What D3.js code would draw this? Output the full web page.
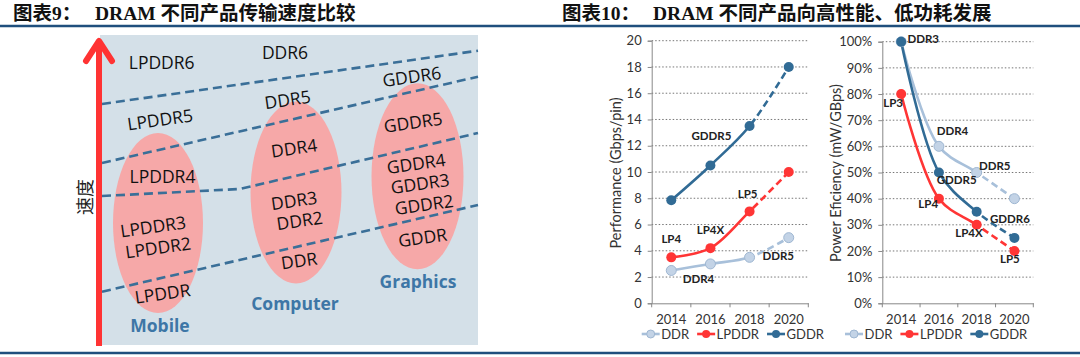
<!DOCTYPE html>
<html><head><meta charset="utf-8">
<script src="https://cdn.jsdelivr.net/npm/d3@7"></script>
<style>body{margin:0;background:#fff} svg{display:block}</style>
</head><body><svg id="c" width="1080" height="357"></svg>
<script>
// ---------- data ----------
const title9 = ["图表9：", "DRAM 不同产品传输速度比较"];
const title10 = ["图表10：", "DRAM 不同产品向高性能、低功耗发展"];

// left diagram (panel units: x across panel, y = speed level)
const segments = ["Mobile", "Computer", "Graphics"];
const segmentPos = [[58, 20], [193, 42], [316, 64]];
const ellipseCenters = [[56, 122], [194, 152.5], [315.5, 168.7]];
const ellipseRadii = [[45, 90], [45.5, 91], [46, 93]];
const boundaryA = [[0, 241], [376, 294.3]];
const boundaryB = [[0, 182], [376, 268.3]];
const boundaryC = [[0, 149], [138, 156], [376, 212]];
const boundaryD = [[0, 53.3], [376, 140]];
const productNames = ["LPDDR6","DDR6","LPDDR5","DDR5","GDDR6","GDDR5","LPDDR4","DDR4","GDDR4","GDDR3","GDDR2","GDDR","DDR3","DDR2","DDR","LPDDR3","LPDDR2","LPDDR"];
const productPos = [[59.7,283.3],[183,293.3],[58,226],[185.5,246],[309.7,269],[311,223.3],[60.5,169.2],[192,197.5],[314,182],[318,162],[322,141],[320.5,108],[192,145],[197.5,125],[197,85],[51,119],[56,98],[60.5,52]];
const productTilt = [0,0,1,1,1,1,0,1,1,1,1,1,1,1,1,1,1,1];
const speedLabel = "速度";

// right charts
const years = ["2014", "2016", "2018", "2020"];
const seriesNames = ["DDR", "LPDDR", "GDDR"];
const perfDDR = [2.5, 3, 3.5, 5];
const perfLPDDR = [3.5, 4.2, 7, 10];
const perfGDDR = [7.85, 10.5, 13.5, 18];
const perfTicks = [0, 2, 4, 6, 8, 10, 12, 14, 16, 18, 20];
const perfLabels = ["GDDR5", "LP5", "LP4X", "LP4", "DDR5", "DDR4"];
const perfLabelAt = [[2, 1], [1, 2], [1, 1], [1, 0], [0, 3], [0, 1]]; // [series, yearIndex]
const effDDR = [100, 60, 50, 40];
const effLPDDR = [80, 40, 30, 20];
const effGDDR = [100, 50, 35, 25];
const effTicks = [0, 10, 20, 30, 40, 50, 60, 70, 80, 90, 100];
const effLabels = ["DDR3", "LP3", "DDR4", "DDR5", "GDDR5", "LP4", "GDDR6", "LP4X", "LP5"];
const effLabelAt = [[2, 0], [1, 0], [0, 1], [0, 2], [2, 1], [1, 1], [2, 3], [1, 2], [1, 3]];

// ---------- styles ----------
const navy = "#1f4f7d";
const colors = { DDR: "#a8c0da", LPDDR: "#ff3535", GDDR: "#316b95" };
const markerFill = { DDR: "#c3d3e6", LPDDR: "#ff3535", GDDR: "#316b95" };
const svg = d3.select("#c");
const cjk = "'Liberation Serif','Noto Sans CJK SC',serif";
const chartFont = "Lato, 'Open Sans', sans-serif";

// ---------- titles & rules ----------
function title(x1, x2, t) {
  svg.append("text").attr("x", x1).attr("y", 20).attr("font-family", cjk).attr("font-weight", "bold")
    .attr("font-size", 19.5).attr("fill", "#111").text(t[0]);
  svg.append("text").attr("x", x2).attr("y", 20).attr("font-family", cjk).attr("font-weight", "bold")
    .attr("font-size", 19.5).attr("fill", "#111").text(t[1]);
}
title(13, 95, title9);
title(562, 653, title10);
svg.append("line").attr("x1", 0).attr("x2", 1080).attr("y1", 26).attr("y2", 26).attr("stroke", navy).attr("stroke-width", 2.5);
svg.append("line").attr("x1", 0).attr("x2", 1080).attr("y1", 353).attr("y2", 353).attr("stroke", navy).attr("stroke-width", 2.5);

// ---------- left diagram ----------
const px = d3.scaleLinear().domain([0, 376]).range([102, 478]);
const py = d3.scaleLinear().domain([0, 310]).range([345, 35]);
const L = svg.append("g");
L.append("rect").attr("x", 100).attr("y", py(310)).attr("width", px(376) - 100).attr("height", py(0) - py(310)).attr("fill", "#d4e0e8");
L.selectAll("ellipse").data(ellipseCenters).join("ellipse")
  .attr("cx", d => px(d[0])).attr("cy", d => py(d[1]))
  .attr("rx", (d, i) => ellipseRadii[i][0]).attr("ry", (d, i) => ellipseRadii[i][1])
  .attr("fill", "#f6a8a8");
const line = d3.line().x(d => px(d[0])).y(d => py(d[1]));
[boundaryA, boundaryB, boundaryC, boundaryD].forEach(b => {
  L.append("path").attr("d", line(b)).attr("fill", "none").attr("stroke", "#3a6f98")
    .attr("stroke-width", 2.6).attr("stroke-dasharray", "9,5");
});
L.selectAll("text.prod").data(productNames).join("text").attr("class", "prod")
  .attr("transform", (d, i) => `translate(${px(productPos[i][0])},${py(productPos[i][1])}) rotate(${productTilt[i] ? -8 : 0})`)
  .attr("text-anchor", "middle").attr("dominant-baseline", "central")
  .attr("font-family", "'Open Sans', sans-serif").attr("font-size", 17.5).attr("fill", "#111").text(d => d);
L.selectAll("text.seg").data(segments).join("text").attr("class", "seg")
  .attr("x", (d, i) => px(segmentPos[i][0])).attr("y", (d, i) => py(segmentPos[i][1]))
  .attr("text-anchor", "middle").attr("dominant-baseline", "central")
  .attr("font-family", "'Open Sans', sans-serif").attr("font-weight", "bold").attr("font-size", 17.5)
  .attr("fill", "#3d76a6").text(d => d);
// arrow
L.append("line").attr("x1", 99).attr("x2", 99).attr("y1", 44).attr("y2", 346).attr("stroke", "#ff3333").attr("stroke-width", 6);
L.append("polyline").attr("points", "86,61 99,41 112,61").attr("fill", "none").attr("stroke", "#ff3333")
  .attr("stroke-width", 6).attr("stroke-linecap", "round").attr("stroke-linejoin", "round");
L.append("text").attr("transform", "translate(84,197) rotate(-90)").attr("text-anchor", "middle")
  .attr("dominant-baseline", "central").attr("font-family", "'Noto Sans CJK SC'").attr("font-size", 18)
  .attr("fill", "#222").text(speedLabel);

// ---------- charts ----------
let clipId = 0;
function drawChart(o) {
  const g = svg.append("g");
  const x = d3.scaleBand().domain(years).range([o.x0, o.x1]);
  const y = d3.scaleLinear().domain([0, o.ticks[o.ticks.length - 1]]).range([303.3, o.yTop]);
  const cx = d => x(d) + x.bandwidth() / 2;
  // grid
  g.selectAll("line.grid").data(o.ticks.filter(t => t > 0)).join("line")
    .attr("x1", o.x0).attr("x2", o.x1).attr("y1", d => y(d)).attr("y2", d => y(d))
    .attr("stroke", "#666").attr("stroke-width", 0.9).attr("stroke-dasharray", "1.5,2");
  // y axis
  const ya = g.append("g").attr("transform", `translate(${o.x0},0)`)
    .call(d3.axisLeft(y).tickValues(o.ticks).tickSize(4).tickPadding(6).tickFormat(o.fmt));
  ya.select(".domain").attr("stroke", "#888");
  ya.selectAll(".tick line").attr("stroke", "#888");
  ya.selectAll("text").attr("font-family", chartFont).attr("font-size", 13).attr("fill", "#333");
  // x axis
  const xa = g.append("g").attr("transform", `translate(0,${y(0)})`)
    .call(d3.axisBottom(x).tickSize(0).tickPadding(11));
  xa.select(".domain").attr("stroke", "#888");
  xa.selectAll("text").attr("font-family", chartFont).attr("font-size", 13).attr("fill", "#333");
  g.selectAll("line.xt").data(d3.range(years.length + 1)).join("line")
    .attr("x1", i => o.x0 + i * x.step()).attr("x2", i => o.x0 + i * x.step())
    .attr("y1", y(0)).attr("y2", y(0) + 4).attr("stroke", "#888");
  // y title
  g.append("text").attr("transform", `translate(${o.titleX},173) rotate(-90)`).attr("text-anchor", "middle")
    .attr("dominant-baseline", "central").attr("font-family", chartFont).attr("font-size", 14.5)
    .attr("fill", "#333").text(o.title);
  // clip paths
  const id1 = "cp" + (clipId++), id2 = "cp" + (clipId++);
  const defs = g.append("defs");
  defs.append("clipPath").attr("id", id1).append("rect").attr("x", 0).attr("y", 0).attr("width", cx(years[2])).attr("height", 357);
  defs.append("clipPath").attr("id", id2).append("rect").attr("x", cx(years[2])).attr("y", 0).attr("width", 500).attr("height", 357);
  const ln = d3.line().x((d, i) => cx(years[i])).y(d => y(d)).curve(d3.curveCatmullRom.alpha(0.5));
  o.series.forEach((s, si) => {
    const name = seriesNames[si];
    g.append("path").attr("d", ln(s)).attr("fill", "none").attr("stroke", colors[name]).attr("stroke-width", 2.6)
      .attr("clip-path", `url(#${id1})`);
    g.append("path").attr("d", ln(s)).attr("fill", "none").attr("stroke", colors[name]).attr("stroke-width", 2.6)
      .attr("stroke-dasharray", "7,4").attr("clip-path", `url(#${id2})`);
  });
  o.series.forEach((s, si) => {
    const name = seriesNames[si];
    g.selectAll(null).data(s).join("circle").attr("cx", (d, i) => cx(years[i])).attr("cy", d => y(d)).attr("r", 5)
      .attr("fill", markerFill[name]).attr("stroke", name === "DDR" ? "#9fb7d2" : "none").attr("stroke-width", 1);
  });
  // point labels
  g.selectAll("text.pl").data(o.labels).join("text").attr("class", "pl")
    .attr("x", (d, i) => cx(years[o.labelAt[i][1]]) + o.offsets[i][0])
    .attr("y", (d, i) => y(o.series[o.labelAt[i][0]][o.labelAt[i][1]]) + o.offsets[i][1])
    .attr("text-anchor", "middle").attr("dominant-baseline", "central")
    .attr("font-family", chartFont).attr("font-weight", "bold").attr("font-size", 11.5).attr("fill", "#222").text(d => d);
  // legend
  let lx = o.legendX;
  seriesNames.forEach(name => {
    g.append("line").attr("x1", lx).attr("x2", lx + 18).attr("y1", 334).attr("y2", 334).attr("stroke", colors[name]).attr("stroke-width", 2.6);
    g.append("circle").attr("cx", lx + 9).attr("cy", 334).attr("r", 4).attr("fill", markerFill[name])
      .attr("stroke", name === "DDR" ? "#9fb7d2" : "none");
    const t = g.append("text").attr("x", lx + 19.5).attr("y", 334).attr("dominant-baseline", "central")
      .attr("font-family", chartFont).attr("font-size", 13).attr("fill", "#333").text(name);
    lx += 19.5 + t.node().getComputedTextLength() + 8;
  });
}

drawChart({
  x0: 651.7, x1: 808.3, yTop: 40.7, ticks: perfTicks, fmt: d => d, titleX: 615,
  title: "Performance (Gbps/pin)", series: [perfDDR, perfLPDDR, perfGDDR],
  labels: perfLabels, labelAt: perfLabelAt,
  offsets: [[1, -30], [-2, -18], [0, -19], [0, -19], [-10.5, 18.3], [-12, 14.4]],
  legendX: 641.7
});
drawChart({
  x0: 882.3, x1: 1033.3, yTop: 41.7, ticks: effTicks, fmt: d => d + "%", titleX: 835,
  title: "Power Eficiency (mW/GBps)", series: [effDDR, effLPDDR, effGDDR],
  labels: effLabels, labelAt: effLabelAt,
  offsets: [[22, -3], [-8, 8], [13.5, -15.6], [18, -7.5], [17.7, 6.5], [-10.7, 5.3], [-4.5, -19.6], [-7.7, 8], [-4.5, 7.3]],
  legendX: 845
});
</script></body></html>
